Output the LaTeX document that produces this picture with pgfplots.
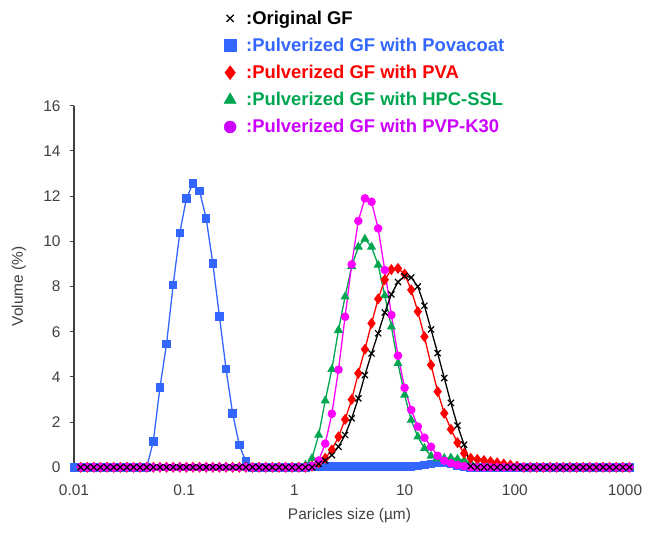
\documentclass[border=0pt]{standalone}
\usepackage{fontspec}
\setmainfont{Liberation Sans}
\usepackage{pgfplots}
\usepackage{pgfplotstable}
\pgfplotsset{compat=1.18}
\definecolor{cPov}{RGB}{51,102,255}
\definecolor{cPVA}{RGB}{255,0,0}
\definecolor{cHPC}{RGB}{0,166,80}
\definecolor{cPVP}{RGB}{255,0,255}
\definecolor{cPVPtxt}{RGB}{204,0,255}
\definecolor{cTick}{RGB}{64,64,64}

% particle size (um) and volume (%) per sample
\pgfplotstableread{
size     pov    pva   hpc   pvp    ogf
0.010000 0      nan   nan   nan    nan
0.011482 0      0     0     0      0
0.013183 0      0     0     0      0
0.015136 0      0     0     0      0
0.017378 0      0     0     0      0
0.019953 0      0     0     0      0
0.022909 0      0     0     0      0
0.026303 0      0     0     0      0
0.030200 0      0     0     0      0
0.034674 0      0     0     0      0
0.039811 0      0     0     0      0
0.045709 0      0     0     0      0
0.052481 1.15   0     0     0      0
0.060256 3.53   0     0     0      0
0.069183 5.46   0     0     0      0
0.079433 8.07   0     0     0      0
0.091201 10.37  0     0     0      0
0.10471  11.90  0     0     0      0
0.12023  12.56  0     0     0      0
0.13804  12.22  0     0     0      0
0.15849  11.00  0     0     0      0
0.18197  9.01   0     0     0      0
0.20893  6.67   0     0     0      0
0.23988  4.34   0     0     0      0
0.27542  2.37   0     0     0      0
0.31623  0.98   0     0     0      0
0.36308  0.26   0     0     0      0
0.41687  0      0     0     0      0
0.47863  0      0     0     0      0
0.54954  0      0     0     0      0
0.63096  0      0     0     0      0
0.72444  0      0     0     0      0
0.83176  0      0     0     0      0
0.95499  0      0     0     0      0
1.0965   0      0     0     0      0
1.2589   0      0     0.10  0      0
1.4454   0.03   0.05  0.40  0.05   0
1.6596   0.03   0.20  1.43  0.30   0.15
1.9055   0.03   0.40  2.95  1.05   0.30
2.1878   0.03   0.77  4.34  2.37   0.54
2.5119   0.03   1.35  6.07  4.32   0.91
2.8840   0.03   2.12  7.55  6.66   1.43
3.3113   0.03   3.00  8.90  8.98   2.17
3.8019   0.03   4.16  9.75  10.90  3.05
4.3652   0.03   5.22  10.10 11.90  4.08
5.0119   0.03   6.37  9.75  11.75  5.04
5.7544   0.03   7.45  8.95  10.57  5.93
6.6069   0.03   8.30  7.60  8.73   6.85
7.5858   0.03   8.75  6.22  6.74   7.65
8.7096   0.03   8.80  4.60  4.94   8.20
10.000   0.03   8.55  3.20  3.52   8.46
11.482   0.03   7.85  2.09  2.54   8.40
13.183   0.05   6.89  1.35  1.80   8.00
15.136   0.10   5.78  0.84  1.31   7.15
17.378   0.15   4.53  0.50  0.91   6.10
19.953   0.18   3.35  0.38  0.51   5.05
22.909   0.18   2.39  0.40  0.29   3.95
26.303   0.15   1.68  0.42  0.18   2.85
30.200   0.08   1.09  0.37  0.10   1.85
34.674   0.03   0.62  0.30  0.05   1.00
39.811   0      0.40  0.20  0      0.05
45.709   0      0.35  0.10  0      0
52.481   0      0.30  0.05  0      0
60.256   0      0.25  0     0      0
69.183   0      0.20  0     0      0
79.433   0      0.15  0     0      0
91.201   0      0.10  0     0      0
104.71   0      0.05  0     0      0
120.23   0      0     0     0      0
138.04   0      0     0     0      0
158.49   0      0     0     0      0
181.97   0      0     0     0      0
208.93   0      0     0     0      0
239.88   0      0     0     0      0
275.42   0      0     0     0      0
316.23   0      0     0     0      0
363.08   0      0     0     0      0
416.87   0      0     0     0      0
478.63   0      0     0     0      0
549.54   0      0     0     0      0
630.96   0      0     0     0      0
724.44   0      0     0     0      0
831.76   0      0     0     0      0
954.99   0      0     0     0      0
1096.5   0      0     0     0      0
}\psd

\begin{document}
\begin{tikzpicture}
\path[use as bounding box] (0,0) rectangle (650bp,536bp);
\begin{axis}[
  at={(74bp,68.7bp)}, anchor=south west,
  scale only axis, width=551bp, height=361.6bp,
  xmode=log, xmin=0.01, xmax=1000, ymin=0, ymax=16,
  clip=false,
  axis lines*=left,
  axis line style={black!75, line width=1.1bp},
  x axis line style={draw=none},
  xtick={0.01,0.1,1,10,100,1000},
  xticklabels={0.01,0.1,1,10,100,1000},
  xminorticks=false,
  xtick style={draw=none},
  ytick distance=2,
  ytick style={black!75, line width=1.1bp},
  tick align=outside, major tick length=4bp,
  /pgf/number format/assume math mode=true,
  tick label style={font=\fontsize{15.5}{18}\selectfont, text=cTick},
  xticklabel style={yshift=-10bp},
  yticklabel style={xshift=-6bp},
  label style={font=\fontsize{15.5}{18}\selectfont, text=cTick},
  xlabel={Paricles size (µm)},
  ylabel={Volume (\%)},
  xlabel style={at={(axis description cs:0.5,-0.133)}, anchor=center},
  ylabel style={at={(axis description cs:-0.1,0.5)}, anchor=center, rotate=0},
  legend style={draw=none, fill=none, at={(rel axis cs:0.272,1.268)},
    anchor=north west, inner sep=0pt, row sep=8.3bp,
    font=\fontsize{18.5}{21}\selectfont\bfseries},
  legend cell align=left,
  legend image code/.code={\path[draw=none, fill=none] (0bp,-6bp) rectangle (20bp,6bp);
    \draw[#1] plot coordinates {(6bp,0bp)};},
]
\addplot[forget plot, cPov, line width=1.3bp, mark=square*, mark size=3.6bp]
  table[x=size, y=pov] {\psd};
\addplot[forget plot, cHPC, line width=1.3bp, mark=triangle*, mark size=4bp]
  table[x=size, y=hpc] {\psd};
\addplot[forget plot, cPVA, line width=1.3bp, mark=diamond*, mark size=4.5bp]
  table[x=size, y=pva] {\psd};
\addplot[forget plot, cPVP, line width=1.3bp, mark=*, mark size=3.6bp]
  table[x=size, y=pvp] {\psd};
\addplot[forget plot, black, line width=1.3bp, mark=x, mark size=4.3bp,
  mark options={line width=1.2bp}]
  table[x=size, y=ogf] {\psd};

\addlegendimage{only marks, black, mark=x, mark size=5bp, mark options={line width=1.2bp}}
\addlegendentry{:Original GF}
\addlegendimage{only marks, cPov, mark=square*, mark size=6bp}
\addlegendentry{\textcolor{cPov}{:Pulverized GF with Povacoat}}
\addlegendimage{only marks, cPVA, mark=diamond*, mark size=7bp}
\addlegendentry{\textcolor{cPVA}{:Pulverized GF with PVA}}
\addlegendimage{only marks, cHPC, mark=triangle*, mark size=7bp}
\addlegendentry{\textcolor{cHPC}{:Pulverized GF with HPC-SSL}}
\addlegendimage{only marks, cPVPtxt, mark=*, mark size=6bp}
\addlegendentry{\textcolor{cPVPtxt}{:Pulverized GF with PVP-K30}}
\end{axis}
\end{tikzpicture}
\end{document}
